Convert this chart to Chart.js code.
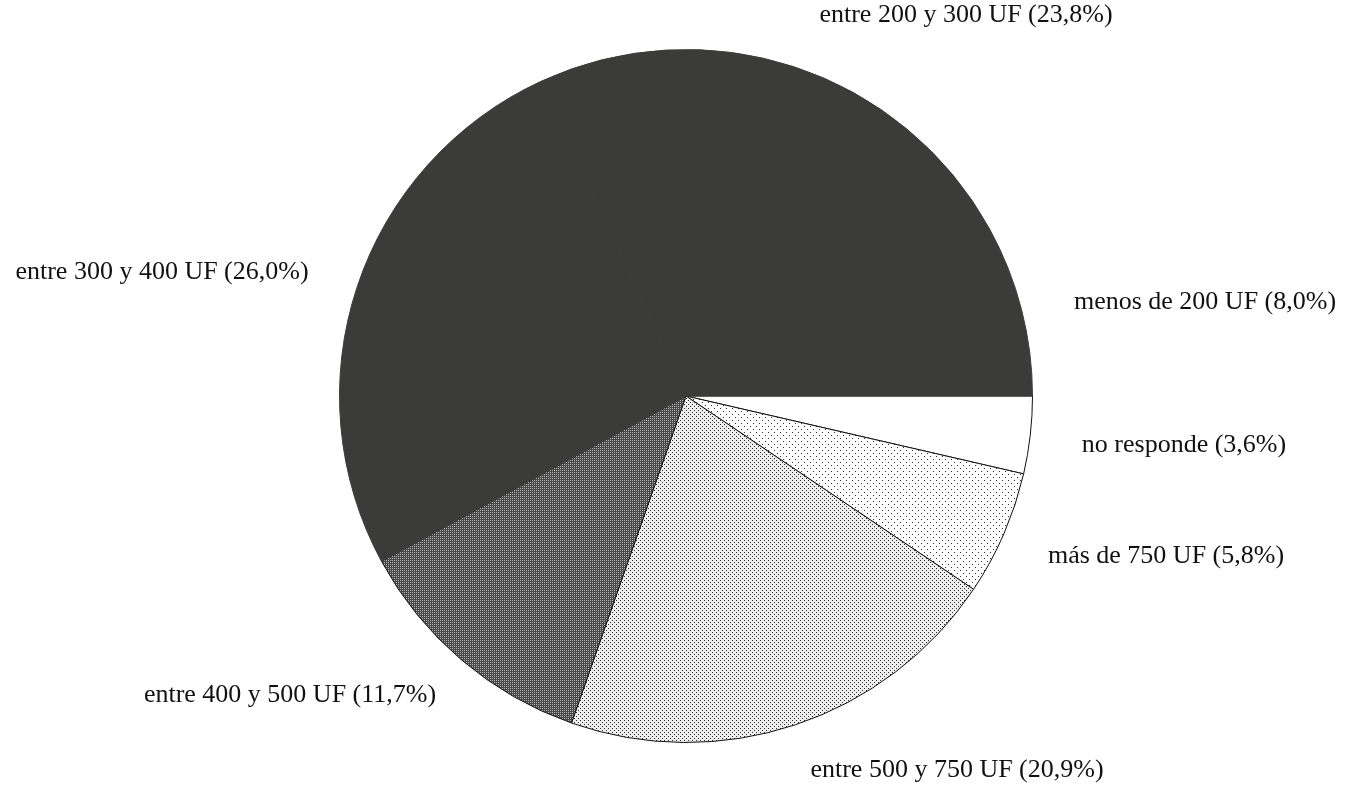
<!DOCTYPE html>
<html>
<head>
<meta charset="utf-8">
<script src="https://cdn.jsdelivr.net/npm/chart.js@4"></script>
<style>
    body { margin: 0; background: #fff; }
    #wrap { width: 1361px; height: 788px; }
</style>
</head>
<body>
<div id="wrap"><canvas id="pieChart" width="1361" height="788"></canvas></div>
<script>
// Slices, clockwise from 3 o'clock
const categories = ['no responde', 'más de 750 UF', 'entre 500 y 750 UF', 'entre 400 y 500 UF',
                    'entre 300 y 400 UF', 'entre 200 y 300 UF', 'menos de 200 UF'];
const shares = [3.6, 5.8, 20.9, 11.7, 26.0, 23.8, 8.0];

// where each label sits (centre of text)
const labelSpots = [[1184, 445], [1166, 556], [957, 770], [290, 695], [162, 272], [966, 15], [1205, 302]];

function makePattern(size, bg, fg, dots) {
    const c = document.createElement('canvas');
    c.width = size; c.height = size;
    const g = c.getContext('2d');
    g.fillStyle = bg;
    g.fillRect(0, 0, size, size);
    g.fillStyle = fg;
    dots.forEach(d => g.fillRect(d[0], d[1], 1, 1));
    return g.createPattern(c, 'repeat');
}

const white = '#ffffff';
const sparseDots = makePattern(6, '#ffffff', '#333333', [[0, 0], [3, 3]]);
const denseDots = makePattern(4, '#eeeeee', '#2a2a2a', [[0, 0], [2, 2]]);
const checker = makePattern(2, '#484848', '#b4b4b4', [[0, 0]]);
const dark = '#3b3b39';

const fills = [white, sparseDots, denseDots, checker, dark, dark, dark];
const borders = ['#111', '#111', '#111', '#111', dark, dark, dark];

const sliceLabels = {
    id: 'sliceLabels',
    afterDraw(chart) {
        const ctx = chart.ctx;
        ctx.save();
        ctx.font = '26px "Liberation Serif", "Times New Roman", serif';
        ctx.fillStyle = '#111';
        ctx.textAlign = 'center';
        ctx.textBaseline = 'middle';
        categories.forEach((name, i) => {
            const pct = shares[i].toFixed(1).replace('.', ',');
            const spot = labelSpots[i];
            ctx.fillText(`${name} (${pct}%)`, spot[0], spot[1]);
        });
        ctx.restore();
    }
};

const ctx = document.getElementById('pieChart').getContext('2d');

new Chart(ctx, {
    type: 'pie',
    data: {
        labels: categories,
        datasets: [{
            data: shares,
            backgroundColor: fills,
            borderColor: borders,
            borderWidth: 1
        }]
    },
    options: {
        responsive: false,
        animation: false,
        rotation: 90,
        layout: {
            padding: { left: 339, right: 328, top: 49, bottom: 45 }
        },
        plugins: {
            legend: { display: false },
            tooltip: { enabled: false }
        }
    },
    plugins: [sliceLabels]
});
</script>
</body>
</html>
